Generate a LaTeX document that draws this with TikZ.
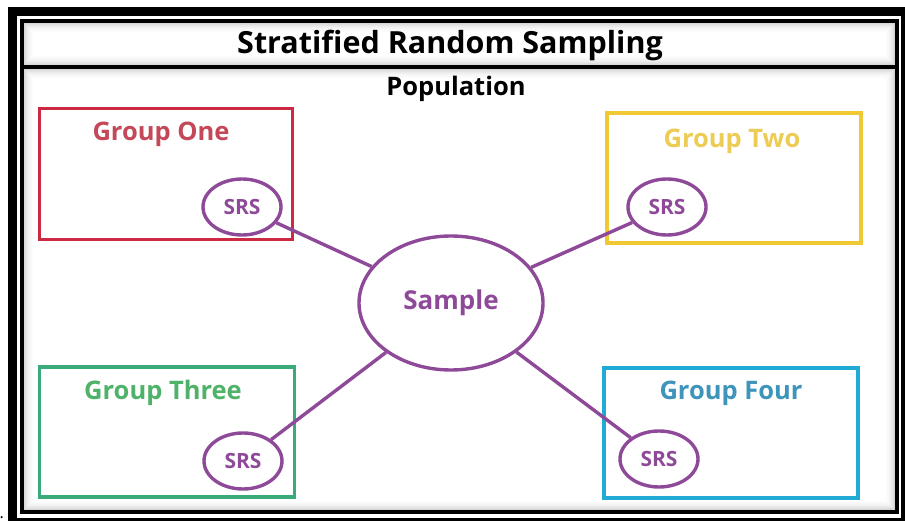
\documentclass[tikz,border=0pt]{standalone}
\usepackage{fontspec}
\setmainfont{Open Sans}
\usetikzlibrary{shapes.geometric}

\definecolor{srspurple}{RGB}{142,74,152}
\definecolor{redbox}{RGB}{204,42,66}
\definecolor{redtext}{RGB}{196,72,88}
\definecolor{goldbox}{RGB}{240,200,52}
\definecolor{goldtext}{RGB}{236,204,84}
\definecolor{greenbox}{RGB}{58,170,122}
\definecolor{greentext}{RGB}{78,178,104}
\definecolor{bluebox}{RGB}{32,170,212}
\definecolor{bluetext}{RGB}{62,148,186}

\tikzset{
  groupbox/.style={draw, line width=3.6pt, inner sep=0pt},
  grouplabel/.style={font=\fontsize{25.5}{30}\selectfont\bfseries, inner sep=0pt},
  srs/.style={ellipse, draw=srspurple, line width=3.4pt, fill=white, inner sep=0pt,
    minimum width=78pt, minimum height=56pt, text=srspurple,
    font=\fontsize{21}{25}\selectfont\bfseries},
  link/.style={draw=srspurple, line width=3.4pt},
}

\begin{document}
\begin{tikzpicture}[x=1pt,y=-1pt]
\useasboundingbox (0,0) rectangle (905,521);

% heavy outer frame
\fill[black] (8,7) rectangle (905,521);
\fill[white] (17,16) rectangle (901,518);

% inner frame with a soft inner shadow
\fill[white] (22,21) rectangle (897,512);
\foreach \d/\o in {2.5/0.16,3.5/0.13,4.5/0.10,5.5/0.08,6.5/0.06,7.5/0.045,8.5/0.03,9.5/0.02,10.5/0.01}{
  \draw[black, opacity=\o, line width=1.1pt] (22+\d,21+\d) rectangle (897-\d,67-\d);
  \draw[black, opacity=\o, line width=1.1pt] (22+\d,67+\d) rectangle (897-\d,512-\d);
}
\draw[line width=4pt] (22,21) rectangle (897,512);
\draw[line width=4pt] (22,67) -- (897,67);

% headings
\node[font=\fontsize{30.5}{36}\selectfont\bfseries, inner sep=0pt] (title) at (450,45) {Stratified Random Sampling};
\node[font=\fontsize{25.5}{30}\selectfont\bfseries, inner sep=0pt] (pop) at (456,89) {Population};

% groups
\node[groupbox, draw=redbox, minimum width=253pt, minimum height=131pt] (g1) at (166,174) {};
\node[grouplabel, text=redtext] (l1) at (161,134) {Group One};
\node[groupbox, draw=goldbox, minimum width=254pt, minimum height=130pt] (g2) at (734,178) {};
\node[grouplabel, text=goldtext] (l2) at (732,141) {Group Two};
\node[groupbox, draw=greenbox, minimum width=255pt, minimum height=130pt] (g3) at (167,432) {};
\node[grouplabel, text=greentext] (l3) at (163,393) {Group Three};
\node[groupbox, draw=bluebox, minimum width=254pt, minimum height=130pt] (g4) at (731,433) {};
\node[grouplabel, text=bluetext] (l4) at (731,393) {Group Four};

% sample and simple random samples
\node[ellipse, draw=srspurple, line width=3.4pt, fill=white, inner sep=0pt,
  minimum width=184pt, minimum height=134pt, text=srspurple,
  font=\fontsize{26}{30}\selectfont\bfseries] (sample) at (451,303) {Sample};
\node[srs] (s1) at (242,207) {SRS};
\node[srs] (s2) at (667,207) {SRS};
\node[srs] (s3) at (243,461) {SRS};
\node[srs] (s4) at (659,459) {SRS};

\foreach \s in {s1,s2,s3,s4}{
  \path[link] (\s) -- (sample);
}

\node[font=\fontsize{16}{18}\selectfont, inner sep=0pt, anchor=base west] (dot) at (-0.5,518.5) {.};
\end{tikzpicture}
\end{document}
